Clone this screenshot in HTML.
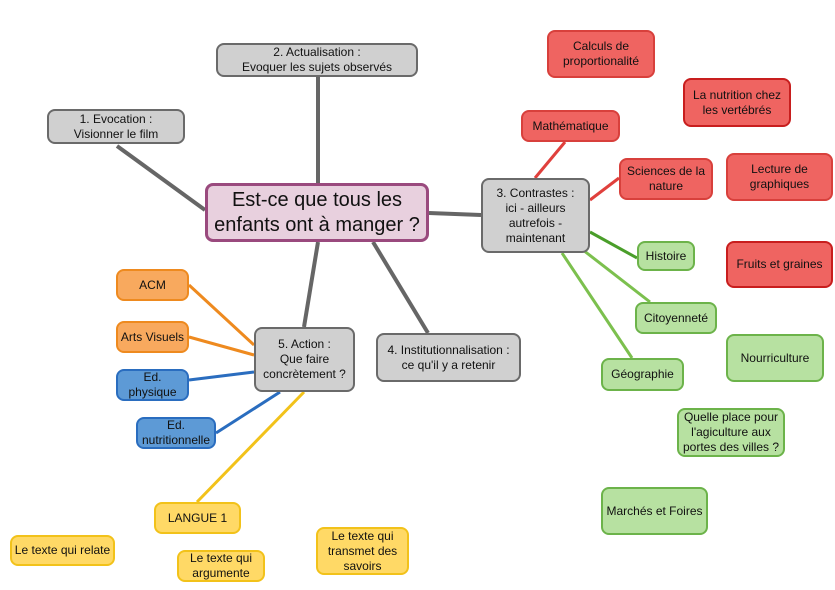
<!DOCTYPE html>
<html><head><meta charset="utf-8"><style>
body{margin:0;width:835px;height:590px;background:#fff;position:relative;overflow:hidden;font-family:"Liberation Sans",sans-serif}
.n{position:absolute;box-sizing:border-box;display:flex;align-items:center;justify-content:center;text-align:center;font-size:12px;line-height:15px;border-radius:8px;border:2px solid #666;color:#111}
.g{background:#d0d0d0;border-color:#6a6a6a}
.r{background:#ef6461;border-color:#d8403c}
.gr{background:#b7e1a1;border-color:#6cb34a}
.o{background:#f8a95e;border-color:#ee8a1f}
.b{background:#5d9ad6;border-color:#2a6dbf}
.y{background:#ffd966;border-color:#f2c21a}
svg{position:absolute;left:0;top:0}
</style></head><body>
<svg width="835" height="590">
<g stroke="#666" stroke-width="4">
<line x1="205" y1="210" x2="117" y2="146"/><line x1="318" y1="183" x2="318" y2="77"/>
<line x1="318" y1="242" x2="304" y2="327"/><line x1="373" y1="242" x2="428" y2="333"/>
<line x1="429" y1="213" x2="481" y2="215"/></g>
<g stroke="#e0403c" stroke-width="3"><line x1="535" y1="178" x2="565" y2="142"/><line x1="590" y1="200" x2="619" y2="178"/></g>
<line x1="590" y1="232" x2="637" y2="258" stroke="#4a9e2a" stroke-width="3"/>
<g stroke="#7cc04e" stroke-width="3"><line x1="583" y1="250" x2="650" y2="302"/><line x1="562" y1="253" x2="632" y2="358"/></g>
<g stroke="#ee8a1f" stroke-width="3"><line x1="189" y1="285" x2="254" y2="345"/><line x1="189" y1="337" x2="254" y2="355"/></g>
<g stroke="#2a6dbf" stroke-width="3"><line x1="189" y1="380" x2="254" y2="372"/><line x1="216" y1="433" x2="280" y2="392"/></g>
<line x1="197" y1="502" x2="304" y2="392" stroke="#f2c21a" stroke-width="3"/>
</svg>
<div class="n" style="left:205px;top:183px;width:224px;height:59px;background:#e8d0de;border:3px solid #9a4a7e;font-size:20px;line-height:25px">Est-ce que tous les<br>enfants ont à manger ?</div>
<div class="n g" style="left:216px;top:43px;width:202px;height:34px">2. Actualisation :<br>Evoquer les sujets observés</div>
<div class="n g" style="left:47px;top:109px;width:138px;height:35px">1. Evocation :<br>Visionner le film</div>
<div class="n g" style="left:481px;top:178px;width:109px;height:75px">3. Contrastes :<br>ici - ailleurs<br>autrefois -<br>maintenant</div>
<div class="n g" style="left:376px;top:333px;width:145px;height:49px">4. Institutionnalisation :<br>ce qu'il y a retenir</div>
<div class="n g" style="left:254px;top:327px;width:101px;height:65px">5. Action :<br>Que faire<br>concrètement ?</div>
<div class="n r" style="left:547px;top:30px;width:108px;height:48px">Calculs de<br>proportionalité</div>
<div class="n r" style="left:683px;top:78px;width:108px;height:49px;border-color:#c81e1e">La nutrition chez<br>les vertébrés</div>
<div class="n r" style="left:521px;top:110px;width:99px;height:32px">Mathématique</div>
<div class="n r" style="left:619px;top:158px;width:94px;height:42px">Sciences de la<br>nature</div>
<div class="n r" style="left:726px;top:153px;width:107px;height:48px">Lecture de<br>graphiques</div>
<div class="n r" style="left:726px;top:241px;width:107px;height:47px;border-color:#c81e1e">Fruits et graines</div>
<div class="n gr" style="left:637px;top:241px;width:58px;height:30px">Histoire</div>
<div class="n gr" style="left:635px;top:302px;width:82px;height:32px">Citoyenneté</div>
<div class="n gr" style="left:726px;top:334px;width:98px;height:48px">Nourriculture</div>
<div class="n gr" style="left:601px;top:358px;width:83px;height:33px">Géographie</div>
<div class="n gr" style="left:677px;top:408px;width:108px;height:49px">Quelle place pour<br>l'agiculture aux<br>portes des villes ?</div>
<div class="n gr" style="left:601px;top:487px;width:107px;height:48px">Marchés et Foires</div>
<div class="n o" style="left:116px;top:269px;width:73px;height:32px">ACM</div>
<div class="n o" style="left:116px;top:321px;width:73px;height:32px">Arts Visuels</div>
<div class="n b" style="left:116px;top:369px;width:73px;height:32px">Ed.<br>physique</div>
<div class="n b" style="left:136px;top:417px;width:80px;height:32px">Ed.<br>nutritionnelle</div>
<div class="n y" style="left:154px;top:502px;width:87px;height:32px">LANGUE 1</div>
<div class="n y" style="left:10px;top:535px;width:105px;height:31px">Le texte qui relate</div>
<div class="n y" style="left:177px;top:550px;width:88px;height:32px">Le texte qui<br>argumente</div>
<div class="n y" style="left:316px;top:527px;width:93px;height:48px">Le texte qui<br>transmet des<br>savoirs</div>
</body></html>
